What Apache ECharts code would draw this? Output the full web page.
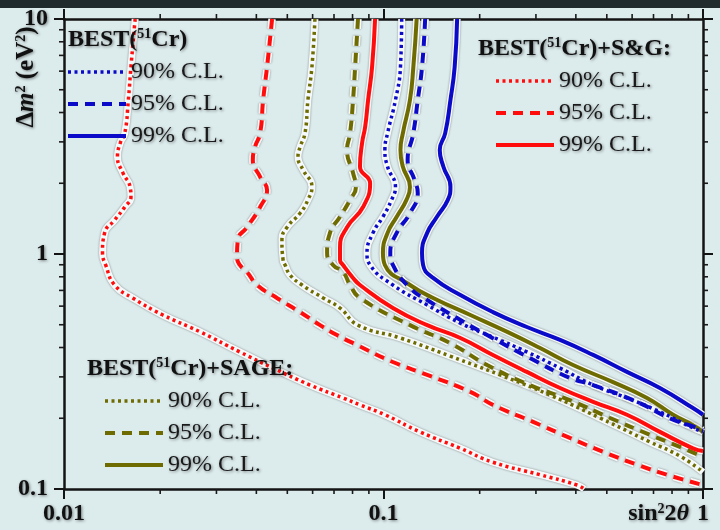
<!DOCTYPE html>
<html><head><meta charset="utf-8">
<script src="https://cdn.jsdelivr.net/npm/echarts@6/dist/echarts.min.js"></script>
<style>html,body{margin:0;padding:0;background:#dcebec;}#c{width:720px;height:530px;}</style>
</head><body><div id="c"></div>
<script>
// ---- data ----
const xMajorTicks = [0.01, 0.1, 1];
const yMajorTicks = [0.1, 1, 10];
const xMinorTicks = [0.02,0.03,0.04,0.05,0.06,0.07,0.08,0.09,0.2,0.3,0.4,0.5,0.6,0.7,0.8,0.9];
const yMinorTicks = [0.2,0.3,0.4,0.5,0.6,0.7,0.8,0.9,2,3,4,5,6,7,8,9];
const clLabels = ['90% C.L.', '95% C.L.', '99% C.L.'];

// BEST(51Cr) only
const best90 = [[0.114,10],[0.113,6.25],[0.109,4.52],[0.103,3.27],[0.101,2.77],[0.103,2.35],[0.109,1.93],[0.106,1.70],[0.0996,1.44],[0.0927,1.23],[0.0888,1.01],[0.0908,0.898],[0.107,0.738],[0.137,0.607],[0.174,0.508],[0.220,0.443],[0.281,0.383],[0.357,0.327],[0.453,0.277],[0.578,0.244],[0.733,0.213],[0.93,0.182],[1.0,0.175]];
const best95 = [[0.135,10],[0.132,6.25],[0.128,4.52],[0.124,3.27],[0.119,2.51],[0.125,2.07],[0.128,1.82],[0.121,1.49],[0.110,1.23],[0.105,1.01],[0.107,0.898],[0.121,0.717],[0.137,0.637],[0.170,0.534],[0.211,0.452],[0.287,0.361],[0.383,0.297],[0.453,0.277],[0.621,0.235],[0.788,0.200],[0.958,0.182],[1.0,0.178]];
const best99 = [[0.170,10],[0.167,6.25],[0.162,4.52],[0.156,3.27],[0.150,2.77],[0.154,2.35],[0.162,1.93],[0.159,1.70],[0.147,1.44],[0.137,1.23],[0.132,1.01],[0.133,0.898],[0.143,0.791],[0.174,0.669],[0.220,0.566],[0.281,0.489],[0.357,0.431],[0.453,0.372],[0.578,0.315],[0.733,0.269],[0.93,0.221],[1.0,0.207]];
// BEST(51Cr)+SAGE
const sage90 = [[0.0610,10],[0.0597,6.25],[0.0580,4.52],[0.0568,3.27],[0.0548,2.85],[0.0540,2.59],[0.0560,2.28],[0.0597,1.93],[0.0580,1.70],[0.0548,1.49],[0.0499,1.30],[0.0481,1.15],[0.0485,0.943],[0.0492,0.898],[0.0510,0.814],[0.0556,0.738],[0.0647,0.650],[0.0731,0.589],[0.0832,0.498],[0.113,0.439],[0.1615,0.368],[0.2315,0.306],[0.332,0.251],[0.476,0.2005],[0.683,0.1585],[0.847,0.138],[1.0,0.118]];
const sage95 = [[0.0832,10],[0.0815,6.25],[0.0803,4.52],[0.0786,3.27],[0.0769,2.77],[0.0803,2.21],[0.0820,1.93],[0.0786,1.70],[0.0731,1.44],[0.0680,1.23],[0.0666,1.01],[0.0695,0.898],[0.0747,0.838],[0.0786,0.738],[0.0844,0.650],[0.121,0.498],[0.1615,0.418],[0.211,0.337],[0.287,0.277],[0.383,0.239],[0.512,0.2005],[0.683,0.170],[0.847,0.151],[1.0,0.137]];
const sage99 = [[0.127,10],[0.124,6.25],[0.121,4.52],[0.115,3.27],[0.113,2.77],[0.115,2.35],[0.121,1.93],[0.118,1.70],[0.110,1.44],[0.103,1.23],[0.0996,1.01],[0.101,0.898],[0.121,0.738],[0.143,0.650],[0.187,0.550],[0.244,0.466],[0.309,0.398],[0.392,0.337],[0.523,0.285],[0.668,0.244],[0.806,0.207],[0.93,0.187],[1.0,0.175]];
// BEST(51Cr)+S&G
const sg90 = [[0.0167,10],[0.0162,6.25],[0.0159,4.52],[0.0155,3.27],[0.0150,2.97],[0.0147,2.59],[0.0153,2.21],[0.0161,1.93],[0.0162,1.75],[0.0155,1.585],[0.0144,1.395],[0.0134,1.23],[0.0132,1.01],[0.0135,0.898],[0.0144,0.738],[0.0164,0.650],[0.0204,0.550],[0.0267,0.466],[0.0355,0.383],[0.0451,0.327],[0.0589,0.277],[0.0747,0.244],[0.0844,0.228],[0.101,0.207],[0.130,0.175],[0.174,0.149],[0.220,0.130],[0.309,0.115],[0.403,0.104],[0.425,0.1]];
const sg95 = [[0.0448,10],[0.0432,6.25],[0.0420,4.52],[0.0411,3.27],[0.0396,2.85],[0.0390,2.51],[0.0411,2.13],[0.0432,1.87],[0.0411,1.585],[0.0374,1.30],[0.0350,1.15],[0.0348,0.971],[0.0355,0.898],[0.0374,0.838],[0.0402,0.738],[0.0464,0.650],[0.0548,0.566],[0.0633,0.498],[0.0715,0.452],[0.0826,0.410],[0.107,0.347],[0.137,0.306],[0.187,0.259],[0.220,0.228],[0.294,0.193],[0.383,0.165],[0.486,0.144],[0.621,0.127],[0.771,0.115],[1.0,0.104]];
const sg99 = [[0.0941,10],[0.0921,6.25],[0.0895,4.52],[0.0876,3.47],[0.0857,2.97],[0.0844,2.35],[0.0908,2.0],[0.0863,1.585],[0.0769,1.30],[0.0731,1.07],[0.0731,0.943],[0.0747,0.898],[0.0803,0.791],[0.0844,0.738],[0.107,0.589],[0.137,0.498],[0.174,0.439],[0.220,0.372],[0.281,0.315],[0.357,0.269],[0.453,0.235],[0.578,0.207],[0.733,0.175],[0.93,0.149],[1.0,0.145]];

// ---- styling ----
const RED = '#ff0d0d', BLUE = '#0a0ac8', OLIVE = '#6e6b00';
const FONT = '"Liberation Serif","Times New Roman",serif';
const SH = {textShadowColor:'rgba(0,0,0,0.45)', textShadowBlur:3, textShadowOffsetX:1, textShadowOffsetY:1};
const kinds = {
  dotted: {main:{width:3.5, type:[3,3.5]}, halo:{width:7, type:'solid'}},
  dashed: {main:{width:4, type:[10,7]}, halo:{width:7.5, type:[10,7]}},
  solid:  {main:{width:4, type:'solid'}, halo:{width:7, type:'solid'}}
};
function curve(name, data, color, kind) {
  const k = kinds[kind];
  return [
    {type:'line', name:name + ' halo', data:data, smooth:0.5, symbol:'none', showSymbol:false, silent:true, animation:false, z:2,
     lineStyle:{color:'#f5f9f9', width:k.halo.width, type:k.halo.type, shadowColor:'rgba(40,40,40,0.55)', shadowBlur:2}},
    {type:'line', name:name, data:data, smooth:0.5, symbol:'none', showSymbol:false, animation:false, z:3,
     itemStyle:{color:color}, lineStyle:{color:color, width:k.main.width, type:k.main.type}}
  ];
}
const series = [].concat(
  curve('SG 90', sg90, RED, 'dotted'),
  curve('SG 95', sg95, RED, 'dashed'),
  curve('SAGE 90', sage90, OLIVE, 'dotted'),
  curve('SAGE 95', sage95, OLIVE, 'dashed'),
  curve('SG 99', sg99, RED, 'solid'),
  curve('SAGE 99', sage99, OLIVE, 'solid'),
  curve('BEST 90', best90, BLUE, 'dotted'),
  curve('BEST 95', best95, BLUE, 'dashed'),
  curve('BEST 99', best99, BLUE, 'solid')
);
// minor ticks drawn through the axes' scales
series.push({
  type:'custom', silent:true, animation:false, z:6,
  data: xMinorTicks.map(v => [v, 1]), encode:{x:0, y:1},
  renderItem: function(params, api){
    const v = api.value(0);
    const b = api.coord([v, 0.1]), t = api.coord([v, 10]);
    const st = {stroke:'#1a1a1a', lineWidth:1.6};
    return {type:'group', children:[
      {type:'line', shape:{x1:b[0], y1:b[1], x2:b[0], y2:b[1]+5}, style:st},
      {type:'line', shape:{x1:t[0], y1:t[1], x2:t[0], y2:t[1]-5}, style:st}
    ]};
  }
});
series.push({
  type:'custom', silent:true, animation:false, z:6,
  data: yMinorTicks.map(v => [0.1, v]), encode:{x:0, y:1},
  renderItem: function(params, api){
    const v = api.value(1);
    const l = api.coord([0.01, v]), r = api.coord([1, v]);
    const st = {stroke:'#1a1a1a', lineWidth:1.6};
    return {type:'group', children:[
      {type:'line', shape:{x1:l[0], y1:l[1], x2:l[0]-5, y2:l[1]}, style:st},
      {type:'line', shape:{x1:r[0], y1:r[1], x2:r[0]+5, y2:r[1]}, style:st}
    ]};
  }
});

const fmt = v => String(+(+v).toPrecision(3));
const axisBase = {
  type:'log', logBase:10,
  axisLine:{show:true, lineStyle:{color:'#141414', width:2.5}},
  axisTick:{show:true, inside:false, length:10, lineStyle:{color:'#141414', width:2}},
  splitLine:{show:false}, minorTick:{show:false}
};
const labelStyle = Object.assign({fontFamily:FONT, fontWeight:'bold', fontSize:24, color:'#111'}, SH);

function legendCfg(prefix, left, top) {
  return {
    data:[prefix+' 90', prefix+' 95', prefix+' 99'],
    orient:'vertical', left:left, top:top, padding:0,
    itemWidth:58, itemHeight:14, itemGap:8, selectedMode:false,
    formatter: n => clLabels[['90','95','99'].indexOf(n.split(' ')[1])],
    lineStyle:{width:'inherit'},
    itemStyle:{color:'rgba(0,0,0,0)', borderWidth:0, opacity:0},
    textStyle:Object.assign({fontFamily:FONT, fontSize:24, color:'#1a1a1a'}, SH)
  };
}
const richTitle = {
  b: Object.assign({fontFamily:FONT, fontWeight:'bold', fontSize:24, color:'#111', lineHeight:26}, SH),
  s: Object.assign({fontFamily:FONT, fontWeight:'bold', fontSize:14, color:'#111', verticalAlign:'top', lineHeight:14}, SH)
};

const option = {
  backgroundColor:'#dcebec',
  animation:false,
  grid:{left:64, right:17, top:19, bottom:41, containLabel:false},
  xAxis:[
    Object.assign({}, axisBase, {min:0.01, max:1, position:'bottom',
      axisLabel:Object.assign({formatter:fmt, margin:13}, labelStyle),
      name:'{b|sin}{s|2}{b|2}{t|θ}', nameLocation:'end', nameGap:-14,
      nameTextStyle:{align:'right', verticalAlign:'middle', padding:[50,0,0,0],
        rich:{b:Object.assign({fontFamily:FONT, fontWeight:'bold', fontSize:24, color:'#111'}, SH),
              s:Object.assign({fontFamily:FONT, fontWeight:'bold', fontSize:14, color:'#111', verticalAlign:'top'}, SH),
              t:Object.assign({fontFamily:FONT, fontWeight:'bold', fontStyle:'italic', fontSize:24, color:'#111'}, SH)}}}),
    Object.assign({}, axisBase, {min:0.01, max:1, position:'top', axisLabel:{show:false}})
  ],
  yAxis:[
    Object.assign({}, axisBase, {min:0.1, max:10, position:'left',
      axisLabel:Object.assign({formatter:fmt, margin:16}, labelStyle)}),
    Object.assign({}, axisBase, {min:0.1, max:10, position:'right', axisLabel:{show:false}})
  ],
  title:[
    {text:'{b|BEST(}{s|51}{b|Cr)}', left:68, top:27, padding:0, textStyle:{rich:richTitle}},
    {text:'{b|BEST(}{s|51}{b|Cr)+S&G:}', left:478, top:36, padding:0, textStyle:{rich:richTitle}},
    {text:'{b|BEST(}{s|51}{b|Cr)+SAGE:}', left:87, top:356, padding:0, textStyle:{rich:richTitle}}
  ],
  legend:[
    legendCfg('BEST', 66, 60),
    legendCfg('SG', 494, 69),
    legendCfg('SAGE', 103, 389)
  ],
  graphic:[
    {type:'rect', left:0, top:0, shape:{x:0, y:0, width:720, height:8}, style:{fill:'#1f2b2c'}, z:-10, silent:true},
    {type:'text', x:27, y:77, rotation:Math.PI/2, silent:true,
     style:{text:'{b|Δ}{i|m}{s|2}{b| (eV}{s|2}{b|)}', align:'center', verticalAlign:'middle',
       rich:{
         b:Object.assign({fontFamily:FONT, fontWeight:'bold', fontSize:25, fill:'#111'}, SH),
         i:Object.assign({fontFamily:FONT, fontWeight:'bold', fontStyle:'italic', fontSize:25, fill:'#111'}, SH),
         s:Object.assign({fontFamily:FONT, fontWeight:'bold', fontSize:14, fill:'#111', verticalAlign:'top'}, SH)
       }}}
  ],
  series:series
};
const chart = echarts.init(document.getElementById('c'));
chart.setOption(option);
</script>
</body></html>
